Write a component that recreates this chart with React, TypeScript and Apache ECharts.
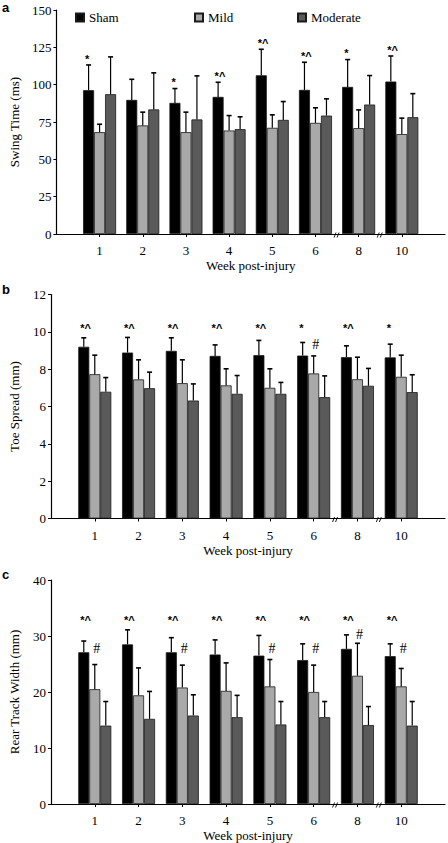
import React, { useEffect, useRef } from 'react';
import * as echarts from 'echarts';

// ---------- data ----------
const weeks = ['1', '2', '3', '4', '5', '6', '8', '10'];
const groupNames = ['Sham', 'Mild', 'Moderate'];

// a: Swing Time (ms)
const swingSham = [96.3, 89.8, 87.8, 91.8, 106.3, 96.5, 98.5, 102.1];
const swingShamErr = [16.9, 13.8, 9.6, 9.8, 17.4, 18.5, 18.3, 17.1];
const swingMild = [68.2, 72.7, 68.2, 69.3, 71.1, 74.4, 70.9, 66.9];
const swingMildErr = [5.3, 8.9, 13.4, 10.0, 8.7, 10.1, 12.2, 10.7];
const swingMod = [93.6, 83.4, 76.7, 70.2, 76.4, 79.3, 86.7, 78.2];
const swingModErr = [25.0, 24.5, 29.2, 8.3, 12.3, 11.2, 19.4, 15.8];
const swingShamNotes = ['*', '', '*', '*^', '*^', '*^', '*', '*^'];
const swingMildNotes = ['', '', '', '', '', '', '', ''];

// b: Toe Spread (mm)
const toeSham = [9.2, 8.89, 8.98, 8.71, 8.75, 8.73, 8.64, 8.63];
const toeShamErr = [0.48, 0.81, 0.7, 0.59, 0.79, 0.7, 0.61, 0.71];
const toeMild = [7.73, 7.45, 7.25, 7.13, 7.0, 7.77, 7.46, 7.59];
const toeMildErr = [1.02, 1.05, 1.25, 0.89, 1.02, 0.94, 1.18, 1.16];
const toeMod = [6.79, 6.98, 6.32, 6.68, 6.68, 6.5, 7.11, 6.77];
const toeModErr = [0.76, 0.86, 0.89, 0.98, 0.61, 1.14, 0.93, 0.93];
const toeShamNotes = ['*^', '*^', '*^', '*^', '*^', '*', '*^', '*'];
const toeMildNotes = ['', '', '', '', '', '#', '', ''];

// c: Rear Track Width (mm)
const rearSham = [27.1, 28.5, 27.1, 26.7, 26.5, 25.7, 27.7, 26.4];
const rearShamErr = [2.0, 2.6, 2.6, 2.6, 3.6, 2.9, 2.5, 2.2];
const rearMild = [20.5, 19.4, 20.8, 20.2, 21.0, 20.0, 22.9, 21.0];
const rearMildErr = [4.4, 4.9, 4.0, 5.0, 4.8, 4.8, 5.8, 3.2];
const rearMod = [14.0, 15.2, 15.8, 15.5, 14.2, 15.5, 14.1, 14.0];
const rearModErr = [4.3, 4.9, 3.7, 3.9, 4.1, 2.8, 3.3, 4.3];
const rearShamNotes = ['*^', '*^', '*^', '*^', '*^', '*^', '*^', '*^'];
const rearMildNotes = ['#', '', '#', '', '#', '#', '#', '#'];

// ---------- style ----------
const BAR_W = 11;
const SERIF = '"Liberation Serif", "Times New Roman", serif';
const SANS = '"Liberation Sans", Arial, sans-serif';
const COLORS = ['#000000', '#a9a9a9', '#5a5a5a'];
const TOPS = [10, 294.5, 580];

type NoteRule = { level: number | null; offset: number };
type Panel = {
  letter: string;
  yName: string;
  min: number;
  max: number;
  interval: number;
  means: number[][];
  errs: number[][];
  notes: string[][];
  rules: NoteRule[];
};

const panels: Panel[] = [
  {
    letter: 'a', yName: 'Swing Time (ms)', min: 0, max: 150, interval: 25,
    means: [swingSham, swingMild, swingMod], errs: [swingShamErr, swingMildErr, swingModErr],
    notes: [swingShamNotes, swingMildNotes],
    rules: [{ level: null, offset: 8.5 }, { level: null, offset: 10 }],
  },
  {
    letter: 'b', yName: 'Toe Spread (mm)', min: 0, max: 12, interval: 2,
    means: [toeSham, toeMild, toeMod], errs: [toeShamErr, toeMildErr, toeModErr],
    notes: [toeShamNotes, toeMildNotes],
    rules: [{ level: 10.33, offset: 8 }, { level: null, offset: 11 }],
  },
  {
    letter: 'c', yName: 'Rear Track Width (mm)', min: 0, max: 40, interval: 10,
    means: [rearSham, rearMild, rearMod], errs: [rearShamErr, rearMildErr, rearModErr],
    notes: [rearShamNotes, rearMildNotes],
    rules: [{ level: 33.3, offset: 8 }, { level: 27.7, offset: 9 }],
  },
];

function errorSeries(i: number, p: Panel) {
  const data: number[][] = [];
  p.means.forEach((m, gi) => m.forEach((v, wi) => data.push([wi + 1, v, p.errs[gi][wi], gi])));
  return {
    type: 'custom',
    xAxisIndex: i,
    yAxisIndex: i,
    silent: true,
    z: 5,
    data,
    renderItem: (_params: any, api: any) => {
      const ci = api.value(0);
      const v = api.value(1);
      const e = api.value(2);
      const gi = api.value(3);
      const base = api.coord([ci, v]);
      const top = api.coord([ci, v + e]);
      const x = base[0] + (gi - 1) * BAR_W;
      const children: any[] = [
        { type: 'line', shape: { x1: x, y1: base[1], x2: x, y2: top[1] }, style: { stroke: '#000', lineWidth: 1.2 } },
        { type: 'line', shape: { x1: x - 2.5, y1: top[1], x2: x + 2.5, y2: top[1] }, style: { stroke: '#000', lineWidth: 1.6 } },
      ];
      const noteArr = p.notes[gi];
      const note = noteArr ? noteArr[ci - 1] : '';
      if (note) {
        const rule = p.rules[gi];
        let cy = top[1] - rule.offset;
        if (rule.level != null) {
          const ly = api.coord([ci, rule.level])[1];
          cy = Math.min(ly, cy);
        }
        if (note === '#') {
          children.push({
            type: 'text', x: x + 2, y: cy,
            style: { text: '#', fontFamily: SERIF, fontSize: 14, fill: '#000', textAlign: 'center', textVerticalAlign: 'middle' },
          });
        } else {
          children.push({
            type: 'text', x: x - 3.5, y: cy + 2.4,
            style: { text: note, fontFamily: SANS, fontWeight: 'bold', fontSize: 11, fill: '#000', textAlign: 'left', textVerticalAlign: 'middle' },
          });
        }
      }
      return { type: 'group', children };
    },
  };
}

function breakSeries(i: number, p: Panel) {
  return {
    type: 'custom',
    xAxisIndex: i,
    yAxisIndex: i,
    silent: true,
    z: 6,
    data: [[6, p.min, 7], [7, p.min, 8]],
    renderItem: (_params: any, api: any) => {
      const a = api.coord([api.value(0), api.value(1)]);
      const b = api.coord([api.value(2), api.value(1)]);
      const x = (a[0] + b[0]) / 2;
      const y = a[1] + 1;
      const st = { stroke: '#000', lineWidth: 0.9 };
      return {
        type: 'group',
        children: [
          { type: 'line', shape: { x1: x - 3, y1: y + 2.5, x2: x - 1, y2: y - 2.5 }, style: st },
          { type: 'line', shape: { x1: x, y1: y + 2.5, x2: x + 2, y2: y - 2.5 }, style: st },
        ],
      };
    },
  };
}

function buildOption() {
  const grid: any[] = [];
  const xAxis: any[] = [];
  const yAxis: any[] = [];
  const series: any[] = [];
  const graphic: any[] = [];
  const axisText = { fontFamily: SERIF, fontSize: 13, color: '#000' };

  panels.forEach((p, i) => {
    grid.push({ left: 46, width: 400, top: TOPS[i], height: 224 });
    xAxis.push({
      type: 'category',
      gridIndex: i,
      data: ['', ...weeks, ''],
      boundaryGap: false,
      name: 'Week post-injury',
      nameLocation: 'middle',
      nameGap: 25,
      nameTextStyle: axisText,
      axisLine: { lineStyle: { color: '#000', width: 1.2 } },
      axisTick: { interval: (idx: number) => idx > 0 && idx < 9, length: 3, lineStyle: { color: '#000' } },
      axisLabel: { interval: 0, margin: 10, ...axisText },
      splitLine: { show: false },
    });
    yAxis.push({
      type: 'value',
      gridIndex: i,
      min: p.min,
      max: p.max,
      interval: p.interval,
      name: p.yName,
      nameLocation: 'middle',
      nameGap: 30,
      nameTextStyle: axisText,
      axisLine: { show: true, lineStyle: { color: '#000', width: 1.2 } },
      axisTick: { show: true, length: 3, lineStyle: { color: '#000' } },
      axisLabel: { margin: 5, ...axisText },
      splitLine: { show: false },
    });
    groupNames.forEach((g, gi) => {
      series.push({
        type: 'bar',
        name: g,
        xAxisIndex: i,
        yAxisIndex: i,
        data: ['-', ...p.means[gi], '-'],
        barWidth: BAR_W,
        barGap: '0%',
        itemStyle: { color: COLORS[gi], borderColor: '#1a1a1a', borderWidth: 0.8 },
      });
    });
    series.push(errorSeries(i, p));
    series.push(breakSeries(i, p));
    graphic.push({
      type: 'text',
      left: 2,
      top: Math.max(1, TOPS[i] - 12),
      style: { text: p.letter, fontFamily: SANS, fontWeight: 'bold', fontSize: 13, fill: '#000' },
    });
  });

  const legendBase = {
    top: 11,
    padding: 0,
    itemWidth: 8,
    itemHeight: 8,
    icon: 'rect',
    selectedMode: false,
    textStyle: { fontFamily: SERIF, fontSize: 13, color: '#000' },
  };

  return {
    animation: false,
    backgroundColor: '#ffffff',
    grid,
    xAxis,
    yAxis,
    series,
    graphic,
    legend: [
      { ...legendBase, data: ['Sham'], left: 75 },
      { ...legendBase, data: ['Mild'], left: 194 },
      { ...legendBase, data: ['Moderate'], left: 297 },
    ],
  };
}

export default function App() {
  const ref = useRef<HTMLDivElement>(null);
  useEffect(() => {
    if (!ref.current) return;
    const chart = echarts.init(ref.current, undefined, { renderer: 'svg' });
    chart.setOption(buildOption() as any);
    return () => chart.dispose();
  }, []);
  return (
    <div
      ref={ref}
      style={{ position: 'absolute', left: 0, top: 0, width: 448, height: 843, background: '#fff' }}
    />
  );
}
